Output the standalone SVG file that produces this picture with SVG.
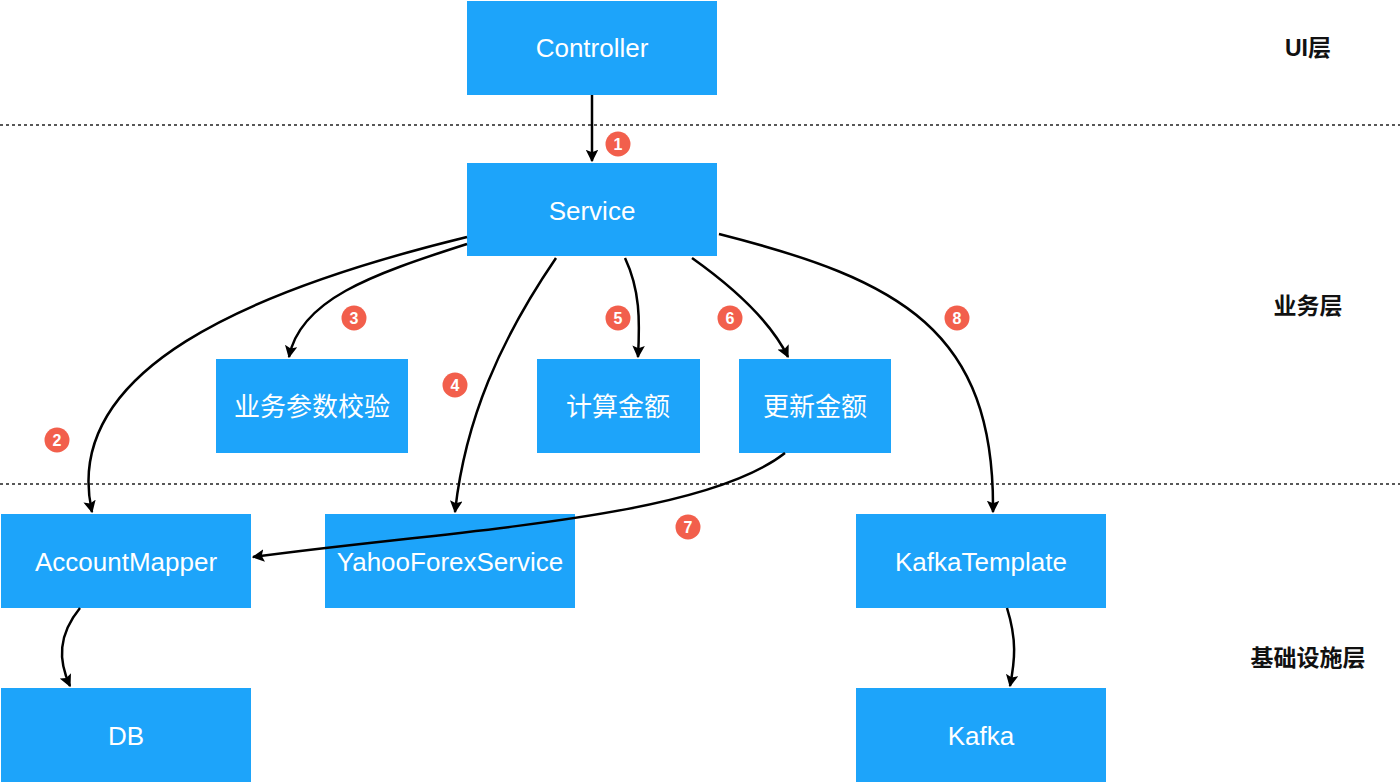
<svg xmlns="http://www.w3.org/2000/svg" width="1400" height="783" viewBox="0 0 1400 783">
<style>
.box{fill:#1DA4FA}
.t{fill:#fff;font-family:"Liberation Sans","Noto Sans CJK SC",sans-serif;font-size:26px;text-anchor:middle;dominant-baseline:central}
.lay{fill:#111;font-family:"Liberation Sans","Noto Sans CJK SC",sans-serif;font-size:23px;font-weight:bold;text-anchor:middle;dominant-baseline:central}
.sep{stroke:#222;stroke-width:1.5;stroke-dasharray:3 3;fill:none}
.c{fill:none;stroke:#000;stroke-width:2.5;marker-end:url(#ah)}
.b circle{fill:#F25F4C}
.b text{fill:#fff;font-family:"Liberation Sans",sans-serif;font-size:16px;font-weight:bold;text-anchor:middle;dominant-baseline:central}
</style>
<defs>
<marker id="ah" viewBox="0 0 10 10" refX="9" refY="5" markerWidth="5" markerHeight="5" orient="auto" markerUnits="strokeWidth">
<path d="M0,0 L10,5 L0,10 L2,5 z" fill="#000"/>
</marker>
</defs>
<rect width="1400" height="783" fill="#fff"/>
<line class="sep" x1="0" y1="125" x2="1400" y2="125"/>
<line class="sep" x1="0" y1="484" x2="1400" y2="484"/>
<text class="lay" x="1308" y="48">UI层</text>
<text class="lay" x="1308" y="306">业务层</text>
<text class="lay" x="1308" y="658">基础设施层</text>
<g id="controller"><rect class="box" x="467" y="1" width="250" height="94"/><text class="t" x="592" y="48">Controller</text></g>
<g id="service"><rect class="box" x="467" y="163" width="250" height="93"/><text class="t" x="592" y="211">Service</text></g>
<g id="validate"><rect class="box" x="216" y="359" width="192" height="94"/><text class="t" x="312" y="407">业务参数校验</text></g>
<g id="calc"><rect class="box" x="537" y="359" width="163" height="94"/><text class="t" x="618" y="407">计算金额</text></g>
<g id="update"><rect class="box" x="739" y="359" width="152" height="94"/><text class="t" x="815" y="407">更新金额</text></g>
<g id="accountmapper"><rect class="box" x="1" y="514" width="250" height="94"/><text class="t" x="126" y="562">AccountMapper</text></g>
<g id="yahoo"><rect class="box" x="325" y="514" width="250" height="94"/><text class="t" x="450" y="562">YahooForexService</text></g>
<g id="kafkatemplate"><rect class="box" x="856" y="514" width="250" height="94"/><text class="t" x="981" y="562">KafkaTemplate</text></g>
<g id="db"><rect class="box" x="1" y="688" width="250" height="94"/><text class="t" x="126" y="736">DB</text></g>
<g id="kafka"><rect class="box" x="856" y="688" width="250" height="94"/><text class="t" x="981" y="736">Kafka</text></g>
<g id="connectors">
<path class="c" d="M592,95 L592,161"/>
<path class="c" d="M467,237 C 250,290 60,370 92,512"/>
<path class="c" d="M467,244 C 370,275 300,300 289,357"/>
<path class="c" d="M556,258 C 500,340 465,420 455,512"/>
<path class="c" d="M625,258 C 640,290 640,320 638,357"/>
<path class="c" d="M692,258 C 730,285 770,320 788,357"/>
<path class="c" d="M719,234 C 900,280 995,330 993,512"/>
<path class="c" d="M785,453 C 700,520 450,530 253,557"/>
<path class="c" d="M80,608 C 58,635 58,660 70,686"/>
<path class="c" d="M1007,608 C 1017,640 1015,660 1010,686"/>
</g>
<g id="badges">
<g class="b"><circle cx="618" cy="144" r="12.5"/><text x="618" y="144">1</text></g>
<g class="b"><circle cx="57" cy="440" r="12.5"/><text x="57" y="440">2</text></g>
<g class="b"><circle cx="354" cy="318" r="12.5"/><text x="354" y="318">3</text></g>
<g class="b"><circle cx="455" cy="385" r="12.5"/><text x="455" y="385">4</text></g>
<g class="b"><circle cx="618" cy="318" r="12.5"/><text x="618" y="318">5</text></g>
<g class="b"><circle cx="730" cy="318" r="12.5"/><text x="730" y="318">6</text></g>
<g class="b"><circle cx="688" cy="527" r="12.5"/><text x="688" y="527">7</text></g>
<g class="b"><circle cx="957" cy="318" r="12.5"/><text x="957" y="318">8</text></g>
</g>
</svg>
